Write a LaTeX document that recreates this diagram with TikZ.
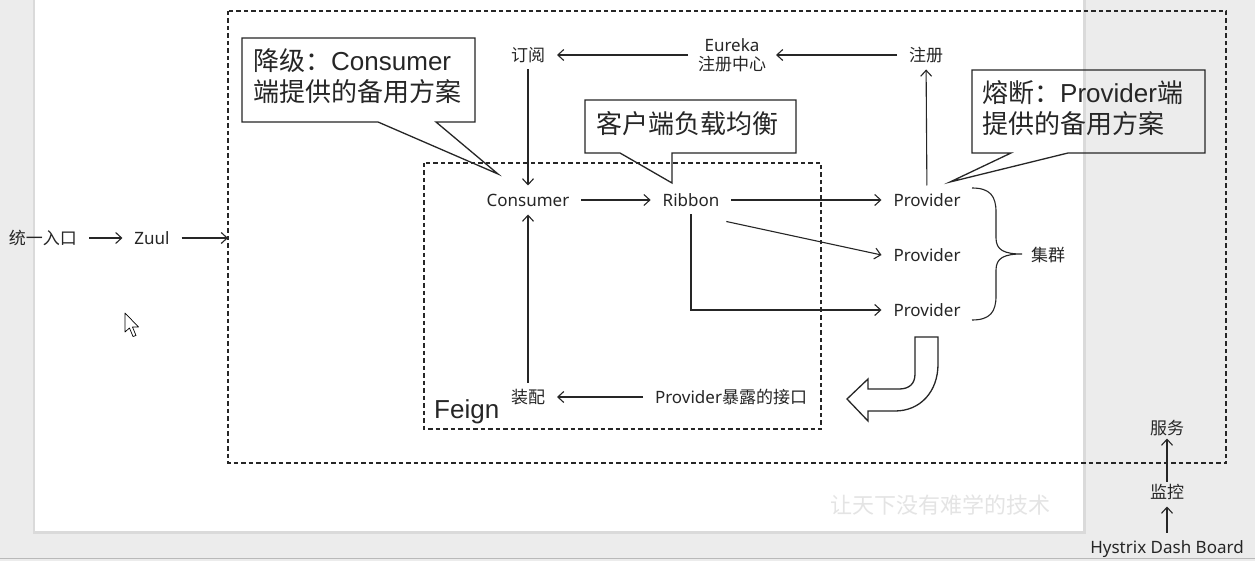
\documentclass[tikz,border=0pt]{standalone}
\usepackage{fontspec}
\setmainfont{Liberation Sans}
\newfontfamily\cjk{Noto Sans CJK SC}
\newfontfamily\lab{Noto Sans}
\usetikzlibrary{arrows.meta,calc}
\definecolor{bggrey}{HTML}{ECECEC}
\definecolor{shadow}{HTML}{DADADA}
\definecolor{ink}{HTML}{262626}
\definecolor{wmark}{HTML}{E4E4E4}
\tikzset{
  lbl/.style={inner sep=0pt, outer xsep=12pt, outer ysep=8pt, text height=13pt, text depth=0pt,
              text=ink, font=\lab\fontsize{17}{20}\selectfont},
  lbltwo/.style={inner sep=0pt, outer xsep=10pt, align=center, text=ink,
              font=\lab\fontsize{17}{20}\selectfont},
  calltext/.style={inner sep=0pt, align=left, anchor=west, text=ink,
              font=\fontsize{26}{31}\selectfont},
  conn/.style={draw=ink, line width=1.1pt, -{Straight Barb[length=6pt,width=11pt,line width=1.1pt]}},
  plain/.style={draw=ink, line width=1.1pt},
  dbox/.style={draw=ink, line width=1.1pt, dash pattern=on 4.5pt off 3pt},
  callout/.style={draw=ink, line width=1.3pt, line join=miter},
}
\begin{document}
\begin{tikzpicture}[x=1pt,y=-1pt]
\useasboundingbox (0,0) rectangle (1255,561);
% background / page
\fill[bggrey] (0,0) rectangle (1255,561);
\fill[shadow] (33,0) rectangle (1086,534);
\fill[white] (35,0) rectangle (1083,531);
\draw[color=shadow!85!black, line width=0.8pt] (0,558) -- (1255,558);

% dashed boxes
\draw[dbox] (228,11) rectangle (1226,463);
\draw[dbox] (424,163) rectangle (821,429);

% left entry
\node[lbl] (entry) at (43,238) {\cjk 统一入口};
\node[lbl] (zuul) at (152,238) {Zuul};
\coordinate (outerW) at (228,238);
\draw[conn] (entry) -- (zuul);
\draw[conn] (zuul.east) -- (outerW);

% top row
\node[lbl] (dingyue) at (528,55) {\cjk 订阅};
\node[lbltwo] (eureka) at (732,55) {Eureka\\[-1pt]{\cjk 注册中心}};
\node[lbl] (zhuce) at (926,55) {\cjk 注册};
\draw[conn] (zhuce) -- (eureka);
\draw[conn] (eureka) -- (dingyue);

% middle row
\node[lbl] (consumer) at (528,200) {Consumer};
\node[lbl] (ribbon) at (691,200) {Ribbon};
\node[lbl] (p1) at (927,200) {Provider};
\node[lbl] (p2) at (927,255) {Provider};
\node[lbl] (p3) at (927,310) {Provider};
\node[lbl] (jiqun) at (1048,255) {\cjk 集群};

\draw[conn] (dingyue) -- (consumer);
\draw[conn] (consumer) -- (ribbon);
\draw[conn] (ribbon) -- (p1);
\draw[conn] ($(ribbon.south east)+(-5,7)$) -- (p2.west);
\draw[conn] (ribbon.south) |- (p3.west);
\draw[conn] (p1) -- (zhuce);

% brace
\coordinate (brTop) at (972,188);
\coordinate (brTip) at (1022,254);
\coordinate (brBot) at (972,320);
\draw[plain] (brTop) .. controls (990,188) and (996,196) .. (996,212)
  -- (996,238) .. controls (996,250) and (1004,254) .. (brTip)
  .. controls (1004,254) and (996,258) .. (996,270)
  -- (996,296) .. controls (996,312) and (990,320) .. (brBot);

% bottom of Feign
\node[lbl] (zhuangpei) at (528,397) {\cjk 装配};
\node[lbl] (iface) at (731,397) {Provider{\cjk 暴露的接口}};
\draw[conn] (iface) -- (zhuangpei);
\draw[conn] (zhuangpei) -- (consumer);
\node[inner sep=0pt, anchor=base west, text=ink, font=\fontsize{26}{30}\selectfont] (feign) at (434,418) {Feign};

% U-turn block arrow
\draw[callout, fill=white] (915,337) -- (938,337) -- (938,364)
  .. controls (938,392) and (920,411) .. (895,411) -- (868,411) -- (868,421)
  -- (847,399) -- (868,379) -- (868,389) -- (899,389)
  .. controls (909,389) and (915,384) .. (915,374) -- cycle;

% callouts
\node[calltext] (c1) at (253,76) {{\cjk 降级：}Consumer\\{\cjk 端提供的备用方案}};
\draw[callout] (378,122) -- (498,174) -- (436,122) -- (475,122) -- (475,38) -- (242,38) -- (242,122) -- cycle;

\node[calltext] (c2) at (596,124) {\cjk 客户端负载均衡};
\draw[callout] (620,153) -- (672,183) -- (672,153) -- (796,153) -- (796,100) -- (585,100) -- (585,153) -- cycle;

\node[calltext] (c3) at (982,108) {{\cjk 熔断：}Provider{\cjk 端}\\{\cjk 提供的备用方案}};
\draw[callout] (1011,153) -- (950,182) -- (1068,153) -- (1205,153) -- (1205,70) -- (972,70) -- (972,153) -- cycle;

% Hystrix
\node[lbl] (fuwu) at (1167,428) {\cjk 服务};
\node[lbl] (jiankong) at (1167,492) {\cjk 监控};
\node[lbl] (hystrix) at (1167,547) {Hystrix Dash Board};
\draw[conn, shorten <=-4pt, shorten >=-4pt] (jiankong) -- (fuwu);
\draw[conn] (hystrix) -- (jiankong);

% watermark
\node[inner sep=0pt, text=wmark, font=\cjk\fontsize{22}{24}\selectfont] (wm) at (940,505) {让天下没有难学的技术};

% mouse cursor
\draw[fill=white, draw=black, line width=0.7pt, line join=round] (125,313) -- (125,332) -- (129.5,328) -- (133,336.5) -- (136,335.5) -- (132.5,327) -- (138.5,327) -- cycle;
\end{tikzpicture}
\end{document}
